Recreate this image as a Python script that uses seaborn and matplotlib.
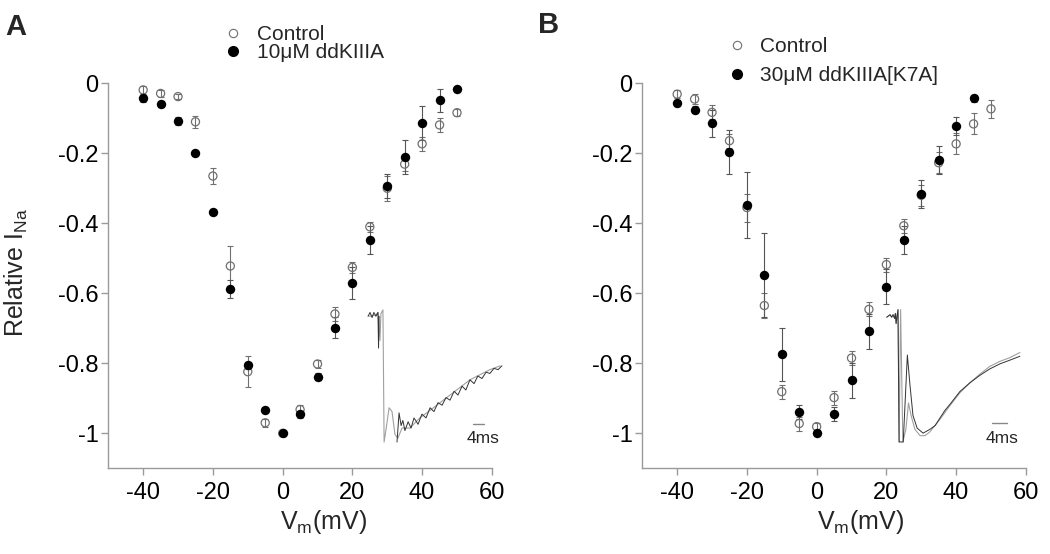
import numpy as np
import pandas as pd
import seaborn as sns
import matplotlib
matplotlib.use('Agg')
from matplotlib import pyplot as plt
from matplotlib.lines import Line2D

# ---- values ----
volt_a = [-40, -35, -30, -25, -20, -15, -10, -5, 0, 5, 10, 15, 20, 25, 30, 35, 40, 45, 50]
ctrl_a = [-0.019, -0.029, -0.038, -0.110, -0.265, -0.522, -0.824, -0.970, -1.0, -0.932,
          -0.802, -0.659, -0.526, -0.410, -0.300, -0.231, -0.173, -0.119, -0.084]
ctrl_a_err = [0.012, 0.01, 0.008, 0.017, 0.023, 0.058, 0.045, 0.012, 0.0, 0.012,
              0.012, 0.02, 0.015, 0.014, 0.035, 0.02, 0.02, 0.02, 0.01]
drug_a = [-0.043, -0.059, -0.107, -0.198, -0.367, -0.588, -0.805, -0.933, -0.998, -0.945,
          -0.838, -0.699, -0.571, -0.448, -0.293, -0.210, -0.114, -0.048, -0.017]
drug_a_err = [0.01, 0.008, 0.012, 0.005, 0.005, 0.026, 0.01, 0.005, 0.005, 0.01,
              0.01, 0.03, 0.045, 0.041, 0.035, 0.048, 0.048, 0.033, 0.005]

volt_b_ctrl = [-40, -35, -30, -25, -20, -15, -10, -5, 0, 5, 10, 15, 20, 25, 30, 35, 40, 45, 50]
ctrl_b = [-0.031, -0.045, -0.083, -0.164, -0.355, -0.635, -0.881, -0.972, -0.981, -0.898,
          -0.785, -0.646, -0.518, -0.407, -0.320, -0.227, -0.173, -0.116, -0.073]
ctrl_b_err = [0.012, 0.015, 0.02, 0.02, 0.04, 0.035, 0.02, 0.02, 0.01, 0.02,
              0.02, 0.02, 0.02, 0.02, 0.03, 0.03, 0.03, 0.03, 0.025]
volt_b_drug = [-40, -35, -30, -25, -20, -15, -10, -5, 0, 5, 10, 15, 20, 25, 30, 35, 40, 45]
drug_b = [-0.057, -0.076, -0.114, -0.195, -0.348, -0.547, -0.774, -0.938, -0.998, -0.945,
          -0.849, -0.708, -0.581, -0.448, -0.317, -0.219, -0.122, -0.043]
drug_b_err = [0.008, 0.01, 0.038, 0.063, 0.095, 0.12, 0.076, 0.02, 0.005, 0.02,
              0.05, 0.05, 0.05, 0.04, 0.04, 0.04, 0.025, 0.01]

# inset current traces (time in ms, current normalised to peak)
trace_a_ctrl_t = [0.3, 2.7, 3.4, 4.1, 4.4, 5.1, 5.5, 6.1, 7.2, 8.2, 9.2, 10.2, 11.6, 14.3,
                  17.7, 21.2, 24.6, 28.0, 31.4, 34.8, 38.2, 41.6, 45.1]
trace_a_ctrl_i = [-0.01, 0.0, 0.02, -0.2, 0.01, 0.04, -1.0, -0.91, -0.73, -0.76, -0.94, -0.97,
                  -0.89, -0.89, -0.81, -0.75, -0.69, -0.63, -0.57, -0.51, -0.47, -0.43, -0.40]
trace_a_drug_t = [0.0, 0.7, 1.4, 2.0, 2.7, 3.4, 3.6, 3.8, np.nan, 9.9, 10.6, 11.3, 11.9, 12.6,
                  13.7, 14.7, 15.7, 17.1, 18.4, 19.8, 21.2, 22.5, 23.9, 25.3, 26.6, 28.0,
                  29.4, 30.7, 32.1, 33.4, 34.8, 36.2, 37.5, 38.9, 40.3, 41.6, 43.0, 44.4, 45.7]
trace_a_drug_i = [-0.01, 0.02, -0.02, 0.02, -0.01, 0.02, -0.26, -0.01, np.nan, -1.0, -0.77,
                  -0.87, -0.83, -0.91, -0.84, -0.89, -0.81, -0.86, -0.78, -0.81, -0.73, -0.76,
                  -0.69, -0.71, -0.65, -0.67, -0.60, -0.63, -0.56, -0.59, -0.51, -0.54, -0.48,
                  -0.50, -0.45, -0.46, -0.42, -0.43, -0.40]

trace_b_ctrl_t = [0.2, 1.1, 1.5, 1.9, 2.3, 2.5, 2.7, 2.9, 3.2, 3.5, 3.9, 4.5, 5.3, 6.0, 6.7,
                  7.7, 9.1, 10.4, 11.7, 14.4, 17.1, 19.7, 22.4, 25.1, 27.7, 30.4, 33.1, 35.7]
trace_b_ctrl_i = [-0.01, 0.01, -0.01, 0.01, -0.02, 0.02, -0.06, -0.01, 0.05, -1.0, 0.05, -1.0,
                  -0.9, -0.69, -0.79, -0.90, -0.95, -0.95, -0.92, -0.82, -0.71, -0.61, -0.53,
                  -0.46, -0.40, -0.36, -0.33, -0.29]
trace_b_drug_t = [0.2, 1.1, 1.5, 1.9, 2.3, 2.5, 2.7, 2.9, 3.2, 3.5, 4.6, 5.7, 6.4, 7.2,
                  8.3, 9.9, 11.7, 13.1, 14.4, 15.7, 17.1, 18.4, 19.7, 22.4, 25.1, 27.7, 30.4,
                  33.1, 35.7]
trace_b_drug_i = [-0.01, 0.01, -0.01, 0.01, -0.02, 0.02, -0.06, -0.01, 0.05, -1.0, -1.0,
                  -0.31, -0.55, -0.79, -0.89, -0.93, -0.90, -0.87, -0.81, -0.75, -0.70, -0.65,
                  -0.60, -0.53, -0.47, -0.42, -0.38, -0.35, -0.32]

x_ticks = [-40, -20, 0, 20, 40, 60]
y_ticks = [0, -0.2, -0.4, -0.6, -0.8, -1]
y_tick_labels = ['0', '-0.2', '-0.4', '-0.6', '-0.8', '-1']

sns.set_theme(style='ticks')
plt.rcParams['font.family'] = ['Liberation Sans', 'DejaVu Sans']
plt.rcParams['axes.unicode_minus'] = False
plt.rcParams['mathtext.default'] = 'regular'

fig = plt.figure(figsize=(10.5, 5.54), dpi=100)

ctrl_col = '#707070'
spine_col = '#9a9a9a'

panels = [
    dict(letter='A', left=0.10314, drug_label='10μM ddKIIIA',
         ctrl=pd.DataFrame({'v': volt_a, 'i': ctrl_a, 'e': ctrl_a_err}),
         drug=pd.DataFrame({'v': volt_a, 'i': drug_a, 'e': drug_a_err}),
         leg_xy=(0.2119, 0.955), leg_space=-0.05, letter_xy=(16, 27),
         inset=[0.34857, 0.19495, 0.13238, 0.25271], inset_xlim=(-0.68, 46.76),
         inset_ylim=(-1.031, 0.071),
         tr_ctrl=(trace_a_ctrl_t, trace_a_ctrl_i), tr_drug=(trace_a_drug_t, trace_a_drug_i),
         bar=(35.7, 39.7, -0.86), bar_text=(39.3, -0.97), xlab_x=0.56),
    dict(letter='B', left=0.61171, drug_label='30μM ddKIIIA[K7A]',
         ctrl=pd.DataFrame({'v': volt_b_ctrl, 'i': ctrl_b, 'e': ctrl_b_err}),
         drug=pd.DataFrame({'v': volt_b_drug, 'i': drug_b, 'e': drug_b_err}),
         leg_xy=(0.6916, 0.933), leg_space=0.48, letter_xy=(549, 25),
         inset=[0.8419, 0.19495, 0.1343, 0.25271], inset_xlim=(-0.53, 37.07),
         inset_ylim=(-1.032, 0.079),
         tr_ctrl=(trace_b_ctrl_t, trace_b_ctrl_i), tr_drug=(trace_b_drug_t, trace_b_drug_i),
         bar=(28.2, 32.2, -0.85), bar_text=(30.9, -0.97), xlab_x=0.568),
]

for p in panels:
    ax = fig.add_axes([p['left'], 0.15469, 0.3653, 0.70758])
    for df, col in [(p['ctrl'], ctrl_col), (p['drug'], '#555555')]:
        ax.errorbar(df['v'], df['i'], yerr=df['e'], fmt='none', ecolor=col,
                    elinewidth=0.8, capsize=2.5, capthick=0.8, zorder=2, clip_on=False)
    sns.scatterplot(data=p['ctrl'], x='v', y='i', ax=ax, marker='o', s=34,
                    facecolor='none', edgecolor=ctrl_col, linewidth=0.9, zorder=3,
                    clip_on=False, legend=False)
    sns.scatterplot(data=p['drug'], x='v', y='i', ax=ax, marker='o', s=46,
                    color='black', edgecolor='black', linewidth=0, zorder=4,
                    clip_on=False, legend=False)

    ax.set_xlim(-50, 60)
    ax.set_ylim(-1.1, 0.02)
    ax.set_xticks(x_ticks)
    ax.set_xticklabels([str(t) for t in x_ticks])
    ax.set_yticks(y_ticks)
    ax.set_yticklabels(y_tick_labels)
    sns.despine(ax=ax)
    ax.spines['left'].set_bounds(-1.1, 0)
    for s in ['left', 'bottom']:
        ax.spines[s].set_color(spine_col)
        ax.spines[s].set_linewidth(1.0)
    ax.tick_params(axis='both', colors=spine_col, labelcolor='black', length=5,
                   width=1, labelsize=17)
    ax.tick_params(axis='y', pad=2)
    ax.tick_params(axis='x', pad=5)
    ax.set_xlabel('V$_{m}$(mV)', fontsize=18)
    ax.xaxis.set_label_coords(p['xlab_x'], -0.1)
    if p['letter'] == 'A':
        ax.set_ylabel('Relative I$_{Na}$', fontsize=18, labelpad=20)
    else:
        ax.set_ylabel('')

    handles = [Line2D([], [], ls='none', marker='o', ms=6, mfc='none', mec=ctrl_col, mew=0.8),
               Line2D([], [], ls='none', marker='o', ms=7, mfc='black', mec='black')]
    fig.legend(handles, ['Control', p['drug_label']], loc='upper left',
               bbox_to_anchor=p['leg_xy'], frameon=False, fontsize=15, borderpad=0,
               borderaxespad=0, handlelength=1.0, handletextpad=0.64,
               labelspacing=p['leg_space'])

    fig.text(p['letter_xy'][0] / 1050, 1 - p['letter_xy'][1] / 554, p['letter'],
             ha='center', va='center', fontsize=21, fontweight='bold')

    ins = fig.add_axes(p['inset'])
    ins.plot(p['tr_ctrl'][0], p['tr_ctrl'][1], color='#a0a0a0', lw=0.8)
    ins.plot(p['tr_drug'][0], p['tr_drug'][1], color='#333333', lw=0.7)
    ins.plot([p['bar'][0], p['bar'][1]], [p['bar'][2], p['bar'][2]], color='#888888', lw=1)
    ins.text(p['bar_text'][0], p['bar_text'][1], '4ms', ha='center', va='center', fontsize=12.5)
    ins.set_xlim(*p['inset_xlim'])
    ins.set_ylim(*p['inset_ylim'])
    ins.axis('off')

fig.savefig('out.png', dpi=100)
